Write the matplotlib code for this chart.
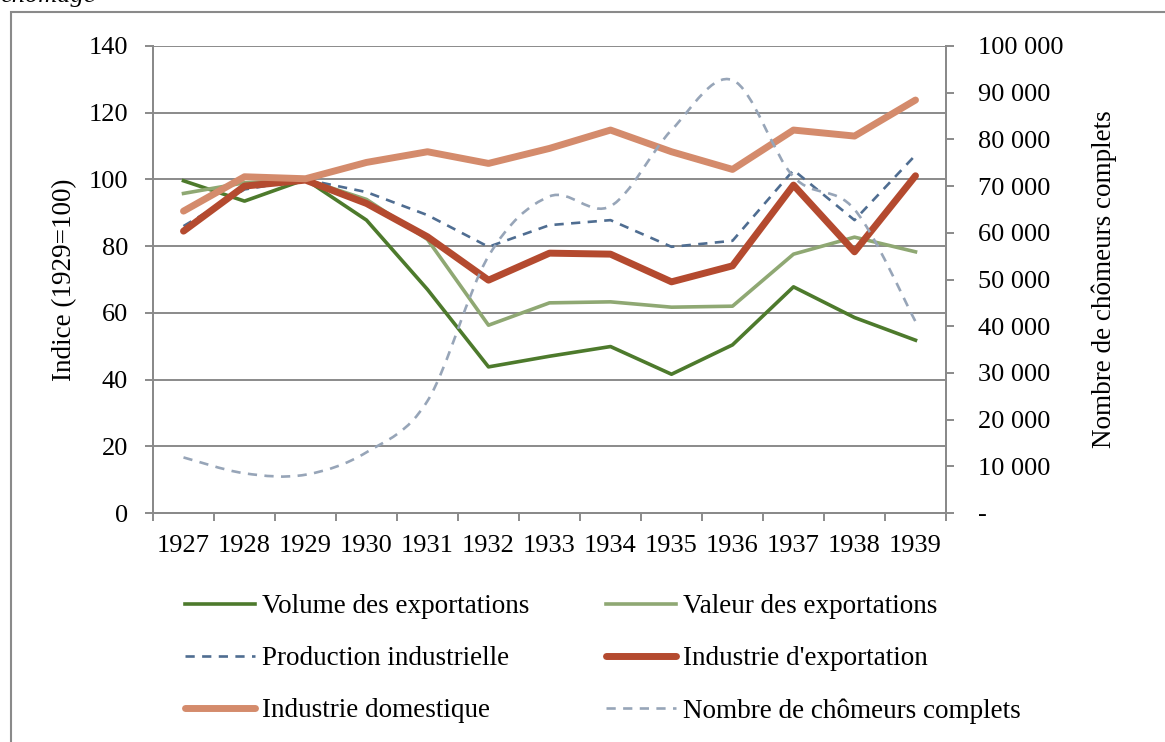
import matplotlib
matplotlib.use('Agg')
import matplotlib.pyplot as plt
from matplotlib.path import Path
from matplotlib.patches import PathPatch, Rectangle
from matplotlib.lines import Line2D
from matplotlib.ticker import FuncFormatter, MultipleLocator

plt.rcParams['font.family'] = ['Liberation Serif', 'DejaVu Serif']

annees = ['1927', '1928', '1929', '1930', '1931', '1932', '1933',
          '1934', '1935', '1936', '1937', '1938', '1939']
volume_export = [99.6, 93.5, 100, 87.8, 67, 43.8, 47, 49.9, 41.6, 50.4, 67.8, 58.6, 51.8]
valeur_export = [95.8, 99, 100, 94, 82, 56.3, 63, 63.3, 61.7, 62, 77.6, 82.7, 78.3]
production_ind = [86, 97, 100, 96.2, 89.3, 79.8, 86.3, 87.8, 79.8, 81.6, 102.8, 87.8, 107.3]
industrie_export = [84.5, 98, 99.8, 92.8, 82.8, 69.8, 77.9, 77.6, 69.3, 74.1, 98.3, 78.3, 101.1]
industrie_dom = [90.5, 100.8, 100.2, 105.1, 108.3, 104.8, 109.3, 114.8, 108.3, 103, 114.8, 113, 123.8]
chomeurs = [11900, 8500, 8200, 13000, 24000, 55000, 67800, 65700, 82000, 92700,
            72000, 65000, 41000]

c_vol = '#4d7a2c'
c_val = '#8fa873'
c_prod = '#4f6d91'
c_exp = '#b44a2f'
c_dom = '#d48b6c'
c_cho = '#97a5b8'
c_axe = '#8a8a8a'
serif = ['Liberation Serif', 'DejaVu Serif']

fig = plt.figure(figsize=(11.65, 7.42), dpi=100)
ax = fig.add_axes([153/1165, 1-513/742, (946-153)/1165, (513-46)/742])
ax2 = ax.twinx()

x = list(range(len(annees)))
ax.plot(x, volume_export, color=c_vol, lw=2.6, zorder=3)
ax.plot(x, valeur_export, color=c_val, lw=2.6, zorder=3)
ax.plot(x, production_ind, color=c_prod, lw=1.9, dashes=(3.5, 2.8), zorder=4)
ax.plot(x, industrie_export, color=c_exp, lw=5, solid_capstyle='round', zorder=5)
ax.plot(x, industrie_dom, color=c_dom, lw=5, solid_capstyle='round', zorder=6)

# courbe lissée (façon Excel) pour les chômeurs
verts = [(x[0], chomeurs[0])]
codes = [Path.MOVETO]
n = len(x)
for i in range(n - 1):
    p0 = (x[max(i-1, 0)], chomeurs[max(i-1, 0)])
    p1 = (x[i], chomeurs[i])
    p2 = (x[i+1], chomeurs[i+1])
    p3 = (x[min(i+2, n-1)], chomeurs[min(i+2, n-1)])
    c1 = (p1[0] + (p2[0]-p0[0])/6, p1[1] + (p2[1]-p0[1])/6)
    c2 = (p2[0] - (p3[0]-p1[0])/6, p2[1] - (p3[1]-p1[1])/6)
    verts += [c1, c2, p2]
    codes += [Path.CURVE4] * 3
ax2.add_patch(PathPatch(Path(verts, codes), fill=False, edgecolor=c_cho,
                        lw=1.9, linestyle=(0, (3.5, 2.8))))

ax.set_xlim(-0.5, 12.5)
ax.set_ylim(0, 140)
ax2.set_ylim(0, 100000)
ax.yaxis.set_major_locator(MultipleLocator(20))
ax2.yaxis.set_major_locator(MultipleLocator(10000))
ax.set_xticks(x)
ax.set_xticklabels(annees)
ax.set_xticks([i - 0.5 for i in range(n + 1)], minor=True)

def fmt_milliers(v, pos):
    if v == 0:
        return '-'
    return '{:,.0f}'.format(v).replace(',', ' ')
ax2.yaxis.set_major_formatter(FuncFormatter(fmt_milliers))

ax.grid(axis='y', color=c_axe, lw=1.4)
ax.set_axisbelow(True)
for a in (ax, ax2):
    a.spines['top'].set_visible(False)
    for s in ('left', 'right', 'bottom'):
        a.spines[s].set_color(c_axe)
        a.spines[s].set_linewidth(1.4)
ax.tick_params(axis='x', which='major', length=0, labelsize=19, pad=16)
ax.tick_params(axis='x', which='minor', length=6, width=1.4, color=c_axe, direction='out')
ax.tick_params(axis='y', length=6, width=1.4, color=c_axe, labelsize=19, pad=12)
ax2.tick_params(axis='y', length=6, width=1.4, color=c_axe, labelsize=19, pad=17)
for lab in ax2.get_yticklabels():
    lab.set_horizontalalignment('left')

ax.set_ylabel('Indice (1929=100)', fontsize=19.5, labelpad=8)
ax2.set_ylabel('Nombre de chômeurs complets', fontsize=19.5, labelpad=20)

handles = [
    Line2D([], [], color=c_vol, lw=2.6),
    Line2D([], [], color=c_prod, lw=1.9, dashes=(3.5, 2.8)),
    Line2D([], [], color=c_dom, lw=5, solid_capstyle='round'),
    Line2D([], [], color=c_val, lw=2.6),
    Line2D([], [], color=c_exp, lw=5, solid_capstyle='round'),
    Line2D([], [], color=c_cho, lw=1.9, dashes=(3.5, 2.8)),
]
labels = ['Volume des exportations', 'Production industrielle', 'Industrie domestique',
          "Valeur des exportations", "Industrie d'exportation", 'Nombre de chômeurs complets']
fig.legend(handles, labels, ncol=2, loc='upper left',
           bbox_to_anchor=(185/1165, 1-594/742), frameon=False,
           prop={'family': serif, 'size': 19.5},
           handlelength=2.6, handletextpad=0.26, columnspacing=2.8,
           labelspacing=1.0, borderaxespad=0, borderpad=0)

fig.patches.append(Rectangle((11/1165, -0.2), 1.5, 1.2 - 12/742, transform=fig.transFigure,
                             fill=False, edgecolor=c_axe, lw=1.5))
fig.text(0.0, 1 - 2/742, 'chômage', style='italic', fontsize=19, va='baseline', ha='left')

fig.savefig('out.png', dpi=100)
